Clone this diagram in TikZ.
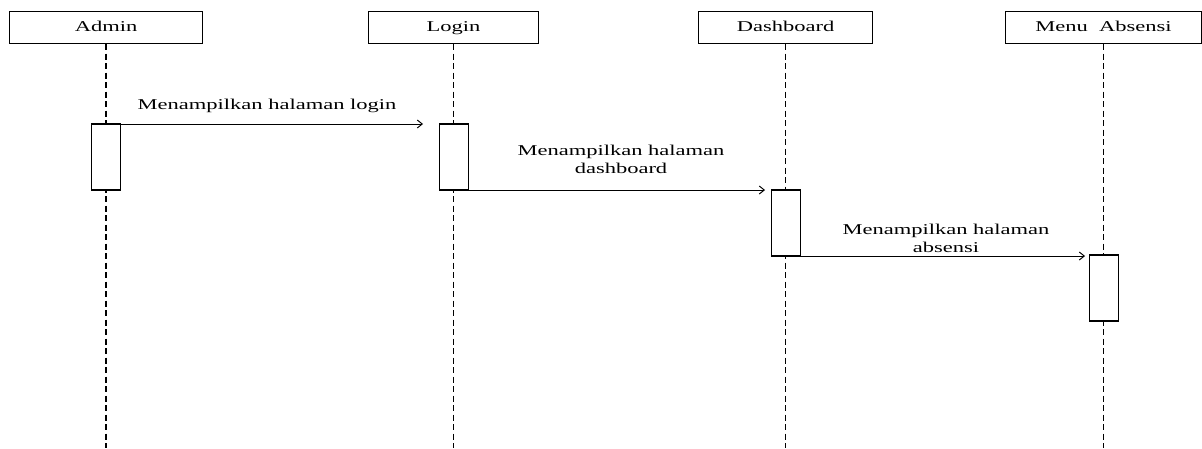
\documentclass[tikz,border=0pt]{standalone}
\usepackage{fontspec}
\setmainfont[FakeStretch=1.5]{Liberation Serif}
\usetikzlibrary{arrows.meta}
\begin{document}
\begin{tikzpicture}[x=1pt,y=-1pt,
  font=\fontsize{15}{18}\selectfont,
  actor/.style={draw,line width=1.1pt,minimum height=32pt,inner sep=0pt,text height=10pt,text depth=3pt,anchor=north west},
  actbar/.style={draw,fill=white,line width=1.1pt,minimum width=29pt,minimum height=66pt,inner sep=0pt,outer sep=0pt,anchor=north},
  life/.style={line width=1.4pt,dash pattern=on 6pt off 3.5pt},
  msg/.style={line width=1pt,-{Straight Barb[length=5pt,width=8pt]}},
  lbl/.style={align=center,inner sep=0pt}]
\useasboundingbox (0,0) rectangle (1202,448);

% participant heads
\node[actor,minimum width=193pt] (admin) at (9,11) {Admin};
\node[actor,minimum width=170pt] (login) at (368,11) {Login};
\node[actor,minimum width=174pt] (dash) at (698,11) {Dashboard};
\node[actor,minimum width=196pt] (menu) at (1005,11) {Menu~~Absensi};

% lifeline ends
\coordinate (adminEnd) at (admin.south |- 0,448);
\coordinate (loginEnd) at (login.south |- 0,448);
\coordinate (dashEnd) at (dash.south |- 0,448);
\coordinate (menuEnd) at (menu.south |- 0,448);

\draw[life] (admin.south) -- (adminEnd);
\draw[life] (login.south) -- (loginEnd);
\draw[life] (dash.south) -- (dashEnd);
\draw[life] (menu.south) -- (menuEnd);

% activation bars
\node[actbar] (a1) at (admin.south |- 0,124) {};
\node[actbar] (a2) at (login.south |- 0,124) {};
\node[actbar] (a3) at (dash.south |- 0,190) {};
\node[actbar] (a4) at (menu.south |- 0,255) {};

% messages
\draw[msg] (a1.north east) -- ([xshift=-16pt]a1.north east -| a2.west);
\draw[msg] (a2.south east) -- ([xshift=-6pt]a2.south east -| a3.west);
\draw[msg] (a3.south east) -- ([xshift=-4pt]a3.south east -| a4.west);

\node[lbl] (l1) at (267,106) {Menampilkan halaman login};
\node[lbl] (l2) at (621,159) {Menampilkan halaman\\dashboard};
\node[lbl] (l3) at (946,238) {Menampilkan halaman\\absensi};
\end{tikzpicture}
\end{document}
